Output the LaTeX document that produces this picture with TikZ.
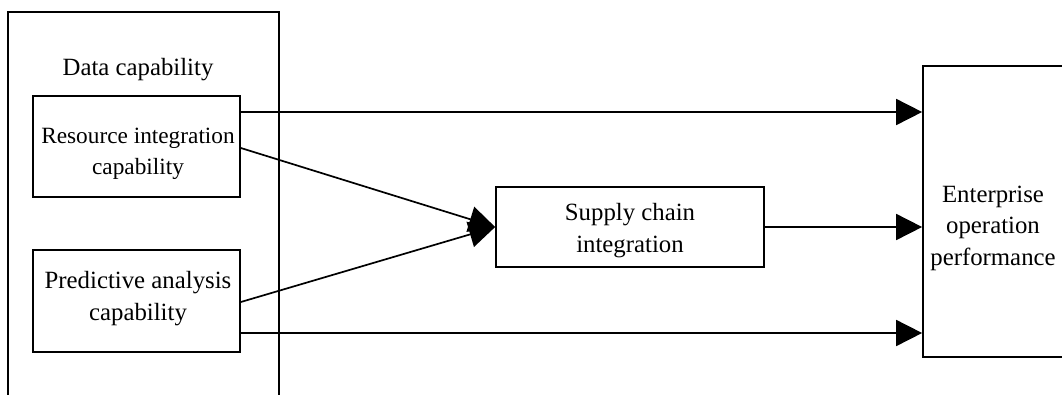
\documentclass[tikz,border=0pt]{standalone}
\usepackage{fontspec}
\setmainfont{Liberation Serif}
\usetikzlibrary{arrows.meta}
\begin{document}
\begin{tikzpicture}[x=1pt,y=-1pt,
  line width=1.7pt,
  boxstyle/.style={draw, line width=1.7pt, inner sep=0pt},
  txt/.style={inner sep=0pt, align=center, font=\fontsize{24.8}{31.5}\selectfont},
  arr/.style={-{Triangle[length=26pt,width=26pt]}, line width=1.7pt}]
\useasboundingbox (0,0) rectangle (1062,394);
\clip (0,0) rectangle (1062,394);
% outer group box (open at the bottom of the picture)
\draw (8,400) -- (8,12) -- (279,12) -- (279,400);
\node[txt] (dc) at (138,70) {Data capability};
\node[boxstyle, minimum width=207pt, minimum height=101pt] (ric) at (136.5,146.5) {};
\node[txt, font=\fontsize{23.3}{31.5}\selectfont] (rictext) at (138,154) {Resource integration\\capability};
\node[boxstyle, minimum width=207pt, minimum height=102pt] (pac) at (136.5,301) {};
\node[txt] (pactext) at (138,298.5) {Predictive analysis\\capability};
\node[boxstyle, minimum width=268pt, minimum height=80pt] (sci) at (630,227) {};
\node[txt] (scitext) at (630,230.5) {Supply chain\\integration};
\node[boxstyle, minimum width=142pt, minimum height=291pt] (eop) at (994,211.5) {};
\node[txt] (eoptext) at (993,228) {Enterprise\\operation\\performance};
\coordinate (t1) at ([yshift=34.5pt]ric.east);
\coordinate (t2) at ([yshift=-1.5pt]ric.east);
\coordinate (b1) at ([yshift=-32pt]pac.east);
\coordinate (b2) at ([yshift=-1pt]pac.east);
\draw[arr] (t1) -- (eop.west |- t1);
\draw[arr] (t2) -- (sci.west);
\draw[arr] (b2) -- (sci.west);
\draw[arr] (sci.east) -- (eop.west |- sci.east);
\draw[arr] (b1) -- (eop.west |- b1);
\end{tikzpicture}
\end{document}
